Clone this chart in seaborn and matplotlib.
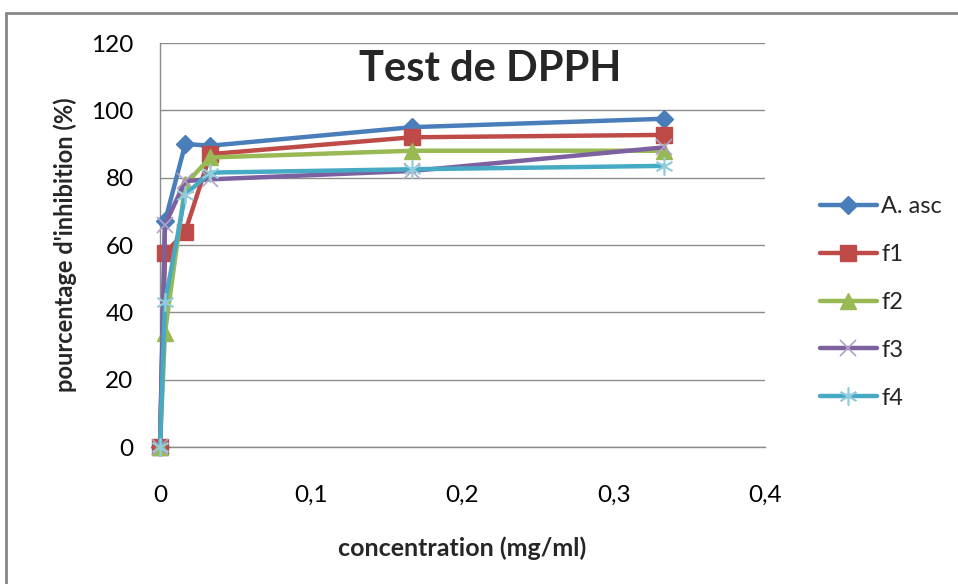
import matplotlib
matplotlib.use("Agg")
import matplotlib.pyplot as plt
import seaborn as sns
import pandas as pd
from matplotlib.lines import Line2D
from matplotlib.ticker import FuncFormatter

concentration = [0, 0.0033, 0.0167, 0.0333, 0.1667, 0.3333]
a_asc = [0, 67, 90, 89.5, 95, 97.5]
f1 = [0, 57.5, 64, 87, 92, 92.7]
f2 = [0, 34, 78, 86, 88, 88]
f3 = [0, 66, 79, 79.5, 82, 89]
f4 = [0, 43, 75, 81.5, 82.5, 83.5]
series_names = ["A. asc", "f1", "f2", "f3", "f4"]
series_values = [a_asc, f1, f2, f3, f4]
x_ticks = [0, 0.1, 0.2, 0.3, 0.4]
y_ticks = [0, 20, 40, 60, 80, 100, 120]

colors = ["#4A7EBB", "#BE4B48", "#98B954", "#7D60A0", "#46AAC5"]
marker_edge = ["#4A7EBB", "#BE4B48", "#98B954", "#B3A2C7", "#93CDDD"]
markers = ["D", "s", "^", "x", (6, 2, 0)]
msizes = [9, 12, 11, 12, 13]
mews = [1, 1, 1, 1.2, 1.2]

sns.set_style("white")
plt.rcParams['font.family'] = ['Lato', 'DejaVu Sans']

fig = plt.figure(figsize=(9.58, 5.84), dpi=100)
ax = fig.add_axes([160/958, 1-447/584, 605/958, 404/584])

for name, vals, c, me, m, ms, mw in zip(series_names, series_values, colors, marker_edge, markers, msizes, mews):
    df = pd.DataFrame({"x": concentration, "y": vals})
    sns.lineplot(data=df, x="x", y="y", ax=ax, color=c, lw=3.2, marker=m,
                 markersize=ms, markerfacecolor=c, markeredgecolor=me,
                 markeredgewidth=mw, sort=False, label=name, clip_on=False, zorder=3)

ax.set_xlim(0, 0.4)
ax.set_ylim(0, 120)
ax.set_xticks(x_ticks)
ax.set_yticks(y_ticks)
ax.xaxis.set_major_formatter(FuncFormatter(lambda v, p: "0" if v == 0 else f"{v:.1f}".replace(".", ",")))
ax.yaxis.grid(True, color="#8C8C8C", lw=1)
ax.xaxis.grid(False)
for s in ["top", "right"]:
    ax.spines[s].set_visible(False)
for s in ["left", "bottom"]:
    ax.spines[s].set_color("#8C8C8C")
    ax.spines[s].set_linewidth(1)
ax.tick_params(axis="both", which="both", direction="out", length=7, width=1,
               color="#8C8C8C", labelsize=17.5, labelcolor="#000000")
ax.tick_params(axis="x", pad=20)
ax.tick_params(axis="y", pad=12)
ax.set_xlabel("concentration (mg/ml)", fontsize=18, fontweight="bold", labelpad=22)
ax.set_ylabel("pourcentage d'inhibition (%)", fontsize=17, fontweight="bold", labelpad=10)
ax.text(0.545, 0.935, "Test de DPPH", transform=ax.transAxes, ha="center", va="center",
        fontsize=30, fontweight="bold")

handles = [Line2D([0], [0], color=c, lw=3.2, marker=m, markersize=ms, markerfacecolor=c,
                  markeredgecolor=me, markeredgewidth=mw)
           for c, me, m, ms, mw in zip(colors, marker_edge, markers, msizes, mews)]
ax.legend(handles, series_names, loc="upper left", bbox_to_anchor=(820/958, 1-196/584),
          bbox_transform=fig.transFigure, frameon=False, fontsize=17, handlelength=2.4,
          labelspacing=1.14, handletextpad=0.2, borderaxespad=0, borderpad=0)

# chart area border
fig.add_artist(Line2D([6/958, 6/958], [0, 1-13/584], transform=fig.transFigure, color="#868686", lw=2))
fig.add_artist(Line2D([6/958, 1], [1-13/584, 1-13/584], transform=fig.transFigure, color="#868686", lw=2))

fig.savefig("out.png", dpi=100)
